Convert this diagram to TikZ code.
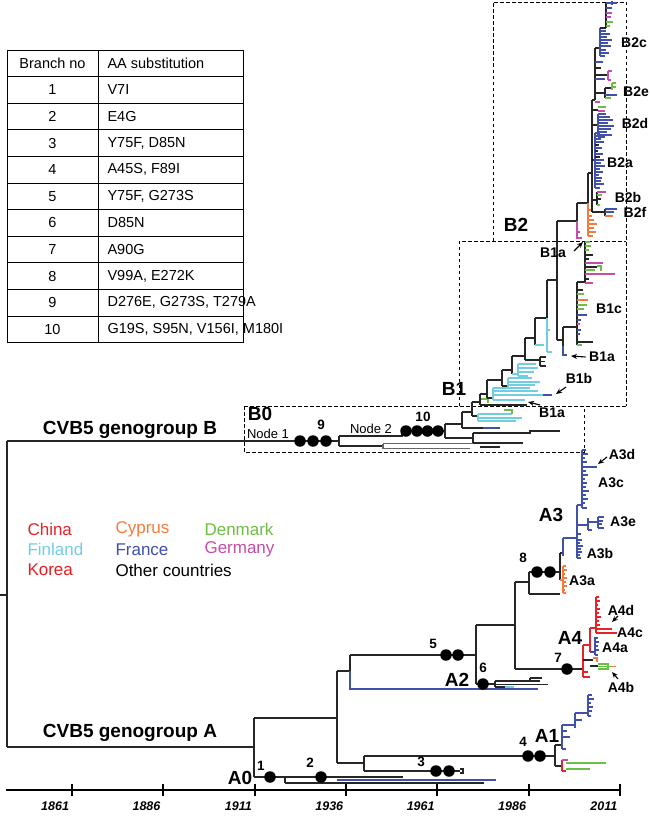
\documentclass[tikz,border=0pt]{standalone}
\usepackage{fontspec}
\setmainfont{Liberation Sans}
\usetikzlibrary{arrows.meta}
\definecolor{cn}{RGB}{230,35,40}
\definecolor{cyp}{RGB}{243,124,60}
\definecolor{dk}{RGB}{110,190,70}
\definecolor{fi}{RGB}{115,205,225}
\definecolor{fr}{RGB}{65,80,168}
\definecolor{ge}{RGB}{196,77,168}
\definecolor{kr}{RGB}{226,30,36}
\begin{document}
\begin{tikzpicture}[x=1pt,y=-1pt,
  tl/.style={line width=1.4pt,draw=black!85},
  bl/.style={line width=1.3pt,draw=fr},
  rd/.style={line width=1.3pt,draw=cn},
  gn/.style={line width=1.3pt,draw=dk},
  cyl/.style={line width=1.3pt,draw=fi},
  pk/.style={line width=1.3pt,draw=ge},
  og/.style={line width=1.3pt,draw=cyp},
  gy/.style={line width=1.2pt,draw=black!60},
  dot/.style={circle,fill=black,inner sep=0pt,minimum size=11.5pt},
  num/.style={font=\bfseries\fontsize{13.5}{15}\selectfont},
  big/.style={font=\bfseries\fontsize{19}{21}\selectfont},
  cl/.style={font=\bfseries\fontsize{14}{16}\selectfont},
  tab/.style={font=\fontsize{14.5}{16}\selectfont},
  leg/.style={font=\fontsize{17}{19}\selectfont,anchor=west},
  yr/.style={font=\bfseries\itshape\fontsize{12.5}{14}\selectfont,anchor=east},
  box/.style={dash pattern=on 3.5pt off 2.5pt,line width=0.9pt},
  arr/.style={-{Stealth[length=6pt,width=5pt]},line width=1.1pt}]
\useasboundingbox (0,0) rectangle (650,816);
\fill[white] (0,0) rectangle (650,816);

% ---------- table ----------
\draw[line width=0.9pt] (7,50) rectangle (243,342.6);
\draw[line width=0.9pt] (98,50) -- (98,342.6);
\foreach \i in {1,...,10} \draw[line width=0.9pt] (7,50+26.6*\i) -- (243,50+26.6*\i);
\node[tab] (th1) at (52.5,63.3) {Branch no};
\node[tab,anchor=west] (th2) at (104,63.3) {AA substitution};
\foreach \n/\t [count=\i] in {1/V7I,2/E4G,3/{Y75F, D85N},4/{A45S, F89I},5/{Y75F, G273S},6/D85N,7/A90G,8/{V99A, E272K},9/{D276E, G273S, T279A},10/{G19S, S95N, V156I, M180I}}{
  \node[tab] (tn\i) at (52.5,63.3+26.6*\i) {\n};
  \node[tab,anchor=west] (tt\i) at (104,63.3+26.6*\i) {\t};
}

% ---------- legend ----------
\node[leg,text=cn] (lcn) at (24,529) {China};
\node[leg,text=cyp] (lcy) at (112,529) {Cyprus};
\node[leg,text=dk] (ldk) at (201,529) {Denmark};
\node[leg,text=fi] (lfi) at (24,549.5) {Finland};
\node[leg,text=fr] (lfr) at (112,549.5) {France};
\node[leg,text=ge] (lge) at (201,549.5) {Germany};
\node[leg,text=kr] (lkr) at (24,570) {Korea};
\node[leg] (lot) at (112,570) {Other countries};

% ---------- dashed boxes ----------
\draw[box] (493,241) -- (493,2) -- (626,2) -- (626,406);
\draw[box] (459,406) -- (459,241) -- (626,241);
\draw[box] (244,406) -- (626,406);
\draw[box] (244,406) -- (244,452) -- (584,452) -- (584,406);

% ---------- root ----------
\draw[tl] (0,595) -- (7,595);
\draw[tl] (7,441) -- (7,747);
\draw[tl] (7,441) -- (339,441);
\draw[tl] (7,747) -- (254,747);
\node[big] (gB) at (130,430) {CVB5 genogroup B};
\node[big] (gA) at (130,733) {CVB5 genogroup A};

% ---------- genogroup B : B0 ----------
\draw[tl] (339,436) -- (339,446);
\draw[tl] (339,436) -- (402,436) -- (402,431) -- (445,431);
\draw[tl] (339,446) -- (383,446);
\draw[gy] (383,443.5) -- (383,448.5);
\draw[gy] (383,443.5) -- (475,443.5);
\draw[gy] (383,448.5) -- (470,448.5);
\draw[tl] (445,424) -- (445,438);
\draw[tl] (445,438) -- (473,438);
\draw[tl] (473,433) -- (473,443);
\draw[tl] (473,433) -- (530,433) -- (530,431) -- (560,431);
\draw[tl] (473,443) -- (523,443);
\draw[tl] (480,447) -- (500,447);
\node[dot] (d9a) at (300,441) {};
\node[dot] (d9b) at (313,441) {};
\node[dot] (d9c) at (326,441) {};
\node[num] (n9) at (321,425) {9};
\node[dot] (d10a) at (406,431) {};
\node[dot] (d10b) at (417,431) {};
\node[dot] (d10c) at (427.5,431) {};
\node[dot] (d10d) at (438,431) {};
\node[num] (n10) at (423,417) {10};
\node[font=\fontsize{13}{15}\selectfont] (nd1) at (268,434) {Node 1};
\node[font=\fontsize{13}{15}\selectfont] (nd2) at (371,429) {Node 2};
\node[big] (lB0) at (260,414) {B0};

% ---------- B1 ladder ----------
\draw[tl] (445,424) -- (462,424);
\draw[tl] (462,412) -- (462,428);
\draw[tl] (462,428) -- (483,428); \draw[bl] (483,428) -- (500,428);
\draw[tl] (462,412) -- (472,412);
\draw[tl] (472,402) -- (472,416);
\draw[tl] (472,416) -- (478,416);
\draw[cyl] (478,414) -- (478,421);
\draw[cyl] (478,414) -- (512,414); \draw[cyl] (478,418) -- (522,418); \draw[cyl] (478,421) -- (516,421);
\draw[gn] (504,410) -- (512,410) -- (512,414);
\draw[tl] (472,402) -- (480,402);
\draw[tl] (480,394) -- (480,405);
\draw[tl] (480,405) -- (527,405);
\draw[gn] (481,399) -- (488,399) -- (488,403);
\draw[tl] (480,394) -- (487,394);
\draw[tl] (487,380) -- (487,398);
\draw[tl] (487,398) -- (493,398);
\draw[cyl] (493,388) -- (493,400);
\draw[cyl] (493,388) -- (530,388); \draw[cyl] (493,391) -- (538,391);
\draw[cyl] (493,395) -- (543,395); \draw[bl] (543,395) -- (552,395);
\draw[cyl] (493,400) -- (525,400);
\draw[tl] (487,380) -- (502,380);
\draw[tl] (502,370) -- (502,386);
\draw[tl] (502,386) -- (508,386);
\draw[cyl] (508,378) -- (508,388);
\draw[cyl] (508,378) -- (532,378); \draw[cyl] (508,382) -- (540,382); \draw[cyl] (508,385) -- (535,385); \draw[cyl] (508,388) -- (520,388);
\draw[tl] (502,370) -- (512,370);
\draw[tl] (512,356) -- (512,374);
\draw[cyl] (512,374) -- (518,374);
\draw[cyl] (518,364) -- (518,376);
\draw[cyl] (518,364) -- (536,364); \draw[cyl] (518,368) -- (538,368); \draw[cyl] (518,372) -- (534,372); \draw[cyl] (518,376) -- (528,376);
\draw[tl] (512,356) -- (525,356);
\draw[tl] (525,338) -- (525,360);
\draw[tl] (525,360) -- (540,360);
\draw[tl] (540,357) -- (540,366);
\draw[tl] (540,357) -- (546,357); \draw[tl] (540,361.5) -- (545,361.5); \draw[tl] (540,366) -- (546,366);
\draw[tl] (525,338) -- (535,338);
\draw[tl] (535,318) -- (535,345);
\draw[cyl] (535,345) -- (544,345);
\draw[tl] (535,318) -- (547,318);
\draw[tl] (547,280) -- (547,318);
\draw[cyl] (547,318) -- (547,352);
\draw[cyl] (547,352) -- (552,352);
\draw[cyl] (547,330) -- (550,330);
\draw[tl] (547,280) -- (557,280);
\draw[tl] (557,221) -- (557,340);
\node[big] (lB1) at (454,389) {B1};

% ---------- B1c ----------
\draw[tl] (557,340) -- (563,340);
\draw[tl] (563,327) -- (563,346);
\draw[bl] (563,346) -- (563,355) -- (567,355);
\draw[tl] (563,327) -- (577,327);
\draw[tl] (577,282) -- (577,345);
\foreach \y/\l/\c in {290/6/tl,294/7/gn,300/11/og,305/10/gn,309/7/gn,315/10/bl,320/4/bl,324/3/pk,330/4/bl,334/3/bl,342/16/tl,345/5/gn}
  \draw[\c] (577,\y) -- ++(\l,0);
\draw[tl] (577,282) -- (585,282);
\draw[tl] (585,242) -- (585,282);
\foreach \y/\l/\c in {242/5/gn,246/6/gn,250/4/gn,255/8/tl,259/4/tl,263/18/pk,267/12/tl,270/10/gn,274/30/pk,279/4/tl}
  \draw[\c] (585,\y) -- ++(\l,0);
\draw[pk] (585,283) -- (593,283);
\draw[gn] (597,266) -- (601,266) -- (601,271);

% ---------- B2 ----------
\draw[tl] (557,221) -- (577,221);
\draw[tl] (577,203) -- (577,221);
\draw[pk] (577,221) -- (577,238) -- (582,238);
\draw[pk] (577,232) -- (580,232);
\draw[tl] (577,203) -- (588,203);
\draw[tl] (588,173) -- (588,203);
\draw[og] (588,203) -- (588,236);
\foreach \y/\l in {210/3,216/4,220/6,224/9,228/6,232/8,236/5}
  \draw[og] (588,\y) -- ++(\l,0);
\draw[tl] (588,173) -- (592,173);
\draw[tl] (592,100) -- (592,212);
% B2f
\draw[tl] (592,212) -- (605,212);
\draw[tl] (605,209) -- (605,216);
\draw[bl] (605,209) -- (617,209); \draw[bl] (605,212) -- (614,212);
\draw[og] (605,216) -- (613,216);
% B2b
\draw[tl] (592,200) -- (597,200);
\draw[tl] (597,192) -- (597,205);
\draw[pk] (597,192) -- (606,192); \draw[gn] (597,195) -- (602,195);
\draw[tl] (597,199) -- (601,199); \draw[gn] (597,205) -- (600,205);
% B2a
\draw[tl] (592,160) -- (595,160);
\draw[bl] (595,133) -- (595,188);
\foreach \y/\l/\c in {133/5/bl,136/8/bl,139/6/bl,142/9/bl,145/4/tl,148/7/bl,151/3/tl,154/8/bl,157/5/tl,160/9/bl,163/6/bl,166/10/bl,169/5/bl,172/8/bl,175/4/bl,178/7/bl,181/6/bl,184/9/bl,188/5/bl}
  \draw[\c] (595,\y) -- ++(\l,0);
% B2d
\draw[tl] (592,125) -- (598,125);
\draw[bl] (598,114) -- (598,137);
\foreach \y/\l in {114/8,117/12,120/15,123/10,126/16,129/13,132/9,135/14,137/7}
  \draw[bl] (598,\y) -- ++(\l,0);
\draw[tl] (592,110) -- (598,110);
\draw[gn] (598,107) -- (606,107); \draw[pk] (598,111) -- (605,111);
% upper spine
\draw[tl] (592,100) -- (595,100);
\draw[tl] (595,48) -- (595,100);
\draw[pk] (595,102) -- (600,102);
% B2e
\draw[tl] (595,93) -- (605,93);
\draw[tl] (605,88) -- (605,98);
\draw[tl] (605,88) -- (612,88);
\draw[gn] (612,83) -- (612,90); \draw[gn] (612,83) -- (616,83); \draw[gn] (612,87) -- (616,87);
\draw[bl] (605,95) -- (617,95);
\draw[gn] (605,98) -- (611,98);
% middle
\draw[tl] (595,75) -- (608,75);
\draw[pk] (608,71) -- (608,80); \draw[pk] (608,71) -- (612,71); \draw[pk] (608,80) -- (611,80);
\draw[bl] (595,79) -- (605,79);
\draw[tl] (595,68) -- (601,68);
\draw[bl] (595,62) -- (603,62);
% B2c
\draw[tl] (595,48) -- (600,48);
\draw[bl] (600,28) -- (600,56);
\foreach \y/\l in {31/6,34/10,37/7,40/12,43/8,46/11,50/6,53/9,56/5}
  \draw[bl] (600,\y) -- ++(\l,0);
\draw[tl] (600,28) -- (606,28);
\draw[tl] (606,3) -- (606,28);
\draw[bl] (606,3) -- (617,3); \draw[bl] (612,0.8) -- (612,5);
\draw[bl] (606,8) -- (612,8);
\draw[pk] (606,13) -- (612,13); \draw[pk] (606,17) -- (611,17);
\draw[gn] (606,22) -- (613,22); \draw[gn] (606,26) -- (610,26);
\node[big] (lB2) at (516,225) {B2};

% ---------- genogroup A ----------
\draw[tl] (254,718) -- (254,777);
\draw[tl] (254,718) -- (337,718);
\draw[tl] (337,671) -- (337,763);
\draw[tl] (337,671) -- (350,671);
\draw[tl] (350,655) -- (350,671);
\draw[bl] (350,671) -- (350,689) -- (538,689);
\draw[tl] (350,655) -- (476,655);
\draw[tl] (476,625) -- (476,684);
\draw[tl] (476,625) -- (515,625);
\draw[tl] (515,582) -- (515,669);
\draw[tl] (515,582) -- (529,582);
\draw[tl] (529,572) -- (529,594);
\draw[tl] (529,572) -- (560,572);
\draw[tl] (529,594) -- (560,594);
\draw[tl] (515,669) -- (583,669);
% A2
\draw[tl] (476,684) -- (495,684);
\draw[tl] (495,681) -- (495,687);
\draw[tl] (495,681) -- (540,681);
\draw[tl] (495,684.5) -- (548,684.5);
\draw[cyl] (505,687) -- (514,687);
\draw[tl] (495,687) -- (505,687);
\draw[tl] (530,678) -- (542,678);
\draw[tl] (530,678) -- (530,681);
% A3
\draw[tl] (560,553) -- (560,580);
\draw[og] (560,580) -- (563,580);
\draw[og] (563,566) -- (563,593);
\foreach \y/\l in {566/3,570/4,574/2,578/4,582/3,586/4,590/2,593/3}
  \draw[og] (563,\y) -- ++(\l,0);
\draw[tl] (560,553) -- (563,553);
\draw[bl] (563,538) -- (563,556);
\draw[bl] (563,538) -- (577,538);
\draw[bl] (577,505) -- (577,558);
\foreach \y/\l in {534/4,540/5,543/3,546/6,549/4,552/5,555/3,558/4}
  \draw[bl] (577,\y) -- ++(\l,0);
\draw[bl] (577,525) -- (588,525);
\draw[bl] (588,518) -- (588,530);
\draw[bl] (588,522) -- (598,522);
\draw[bl] (598,517) -- (598,528);
\foreach \y/\l in {517/6,521/5,524/4,528/6}
  \draw[bl] (598,\y) -- ++(\l,0);
\draw[bl] (588,530) -- (592,530);
\draw[bl] (577,505) -- (582,505);
\draw[bl] (582,450) -- (582,508);
\foreach \y/\l in {450/4,454/6,458/3,462/5,467/15,471/4,475/6,479/3,483/5,487/4,491/7,495/4,499/6,503/3,508/5}
  \draw[bl] (582,\y) -- ++(\l,0);
% A4
\draw[rd] (583,645) -- (583,677);
\draw[rd] (583,677) -- (590,677);
\draw[rd] (583,672) -- (588,672);
\draw[rd] (583,645) -- (590,645);
\draw[rd] (590,628) -- (590,652);
\draw[rd] (590,628) -- (596,628);
\draw[rd] (596,597) -- (596,633);
\foreach \y/\l in {597/3,601/4,605/2,609/4,613/3,617/5,621/3,625/4}
  \draw[rd] (596,\y) -- ++(\l,0);
\draw[rd] (596,629) -- (612,629);
\draw[rd] (600,633) -- (617,633);
\draw[rd] (596,633) -- (600,633);
\draw[tl] (583,660) -- (593,660);
\draw[bl] (590,652) -- (595,652);
\draw[bl] (595,637) -- (595,655);
\foreach \y/\l in {638/3,642/4,646/3,650/4,655/3}
  \draw[bl] (595,\y) -- ++(\l,0);
\draw[og] (593,658) -- (597,658) -- (597,662);
\draw[tl] (590,666) -- (598,666);
\draw[gn] (598,664) -- (608,664) -- (608,669) -- (598,669);
\draw[gn] (598,666.5) -- (612,666.5);
\draw[og] (612,666.5) -- (616,666.5);
% A1 / A0 branches
\draw[tl] (337,763) -- (364,763);
\draw[tl] (364,756) -- (364,771);
\draw[tl] (364,756) -- (555,756);
\draw[tl] (364,771) -- (460,771);
\draw[tl] (460,769) -- (463,769) -- (463,773) -- (460,773);
\draw[tl] (555,745) -- (555,766);
\draw[tl] (555,745) -- (562,745);
\draw[bl] (562,725) -- (562,749);
\draw[bl] (562,749) -- (566,749); \draw[bl] (562,737) -- (570,737); \draw[bl] (562,731) -- (567,731);
\draw[bl] (562,725) -- (575,725);
\draw[bl] (575,713) -- (575,728);
\draw[bl] (575,720) -- (582,720);
\draw[bl] (575,713) -- (588,713);
\draw[bl] (588,695) -- (588,716);
\foreach \y/\l in {695/4,699/6,703/3,707/5,711/4,716/3}
  \draw[bl] (588,\y) -- ++(\l,0);
\draw[tl] (555,766) -- (562,766);
\draw[rd] (562,760) -- (562,771);
\draw[rd] (562,771) -- (566,771);
\draw[pk] (562,760) -- (568,760);
\draw[gn] (566,763) -- (606,763);
\draw[gn] (566,769) -- (590,769);
\draw[tl] (254,777) -- (285,777);
\draw[tl] (285,777) -- (285,783);
\draw[tl] (285,777) -- (403,777);
\draw[bl] (337,780) -- (496,780);
\draw[tl] (285,783) -- (484,783);
% dots & numbers
\node[dot] (d1) at (270,777) {};
\node[num] (n1) at (261,766) {1};
\node[dot] (d2) at (321,777) {};
\node[num] (n2) at (310,763) {2};
\node[dot] (d3a) at (436,771) {};
\node[dot] (d3b) at (449,771) {};
\node[num] (n3) at (421,762) {3};
\node[dot] (d4a) at (528,756) {};
\node[dot] (d4b) at (540,756) {};
\node[num] (n4) at (523,742) {4};
\node[dot] (d5a) at (446,655) {};
\node[dot] (d5b) at (458,655) {};
\node[num] (n5) at (433,644) {5};
\node[dot] (d6) at (483,684) {};
\node[num] (n6) at (483,668) {6};
\node[dot] (d7) at (567,669) {};
\node[num] (n7) at (558,658) {7};
\node[dot] (d8a) at (537,572) {};
\node[dot] (d8b) at (550,572) {};
\node[num] (n8) at (523,558) {8};

% ---------- clade labels ----------
\node[big] (lA0) at (240,778) {A0};
\node[big] (lA1) at (547,736) {A1};
\node[big] (lA2) at (457,680) {A2};
\node[big] (lA3) at (551,515) {A3};
\node[big] (lA4) at (570,638) {A4};
\node[cl] (lA3d) at (622,455) {A3d};
\node[cl] (lA3c) at (611,483) {A3c};
\node[cl] (lA3e) at (623,522) {A3e};
\node[cl] (lA3b) at (600,553) {A3b};
\node[cl] (lA3a) at (582,581) {A3a};
\node[cl] (lA4d) at (621,610) {A4d};
\node[cl] (lA4c) at (630,633) {A4c};
\node[cl] (lA4a) at (615,648) {A4a};
\node[cl] (lA4b) at (621,687) {A4b};
\node[cl] (lB2c) at (634,43) {B2c};
\node[cl] (lB2e) at (636,92) {B2e};
\node[cl] (lB2d) at (635,123) {B2d};
\node[cl] (lB2a) at (620,163) {B2a};
\node[cl] (lB2b) at (628,197) {B2b};
\node[cl] (lB2f) at (635,212) {B2f};
\node[cl] (lB1a1) at (553,253) {B1a};
\node[cl] (lB1c) at (609,309) {B1c};
\node[cl] (lB1a2) at (602,357) {B1a};
\node[cl] (lB1b) at (579,378) {B1b};
\node[cl] (lB1a3) at (552,413) {B1a};
% arrows
\coordinate (t1) at (583,242);
\coordinate (t2) at (571,356);
\coordinate (t3) at (556,394);
\coordinate (t4) at (528,402);
\coordinate (t5) at (598,464);
\coordinate (t6) at (612,622);
\coordinate (t7) at (612,672);
\draw[arr] (574,251) -- (t1);
\draw[arr] (lB1a2.west) -- (t2);
\draw[arr] (566,387) -- (t3);
\draw[arr] (540,405) -- (t4);
\draw[arr] (607,457) -- (t5);
\draw[arr] (618,616) -- (t6);
\draw[arr] (618,679) -- (t7);

% ---------- time axis ----------
\draw[line width=2pt] (6,790) -- (620,790);
\foreach \yy [count=\i from 0] in {1861,1886,1911,1936,1961,1986,2011}{
  \draw[line width=2pt] (71.7+91.4*\i,784) -- (71.7+91.4*\i,796);
  \node[yr] (yr\i) at (72.5+91.4*\i,806) {\yy};
}
\end{tikzpicture}
\end{document}
